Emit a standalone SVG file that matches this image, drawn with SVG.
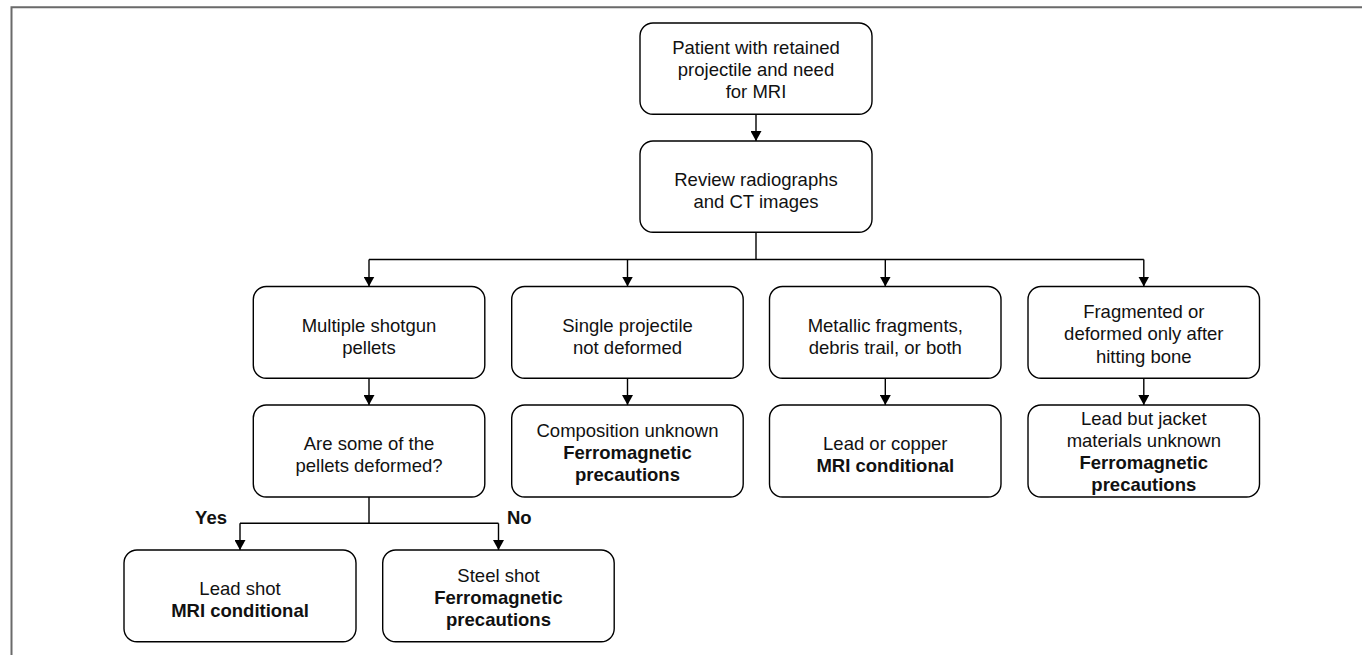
<svg xmlns="http://www.w3.org/2000/svg" width="1362" height="655" viewBox="0 0 1362 655">
<style>
.box{fill:#fff;stroke:#000;stroke-width:1.4}
.t{font-family:"Liberation Sans",Arial,sans-serif;font-size:18.5px;fill:#111;text-anchor:middle}
.b{font-weight:bold}
.c{fill:none;stroke:#000;stroke-width:1.4}
.frame{fill:none;stroke:#6a6a6a;stroke-width:2}
</style>
<defs>
<marker id="ah" markerUnits="userSpaceOnUse" markerWidth="12" markerHeight="11" refX="10" refY="5.5" orient="auto">
<path d="M0,0 L10,5.5 L0,11 Z" fill="#000"/>
</marker>
</defs>
<path class="frame" d="M11.5,655 L11.5,7.3 L1362,7.3"/>
<g id="connectors">
<line class="c" x1="756" y1="114" x2="756" y2="141" marker-end="url(#ah)"/>
<polyline class="c" points="756,232 756,259.5"/>
<polyline class="c" points="369,259.5 1143.8,259.5"/>
<line class="c" x1="369" y1="259.5" x2="369" y2="286.5" marker-end="url(#ah)"/>
<line class="c" x1="627.5" y1="259.5" x2="627.5" y2="286.5" marker-end="url(#ah)"/>
<line class="c" x1="885.3" y1="259.5" x2="885.3" y2="286.5" marker-end="url(#ah)"/>
<line class="c" x1="1143.8" y1="259.5" x2="1143.8" y2="286.5" marker-end="url(#ah)"/>
<line class="c" x1="369" y1="378.3" x2="369" y2="405" marker-end="url(#ah)"/>
<line class="c" x1="627.5" y1="378.3" x2="627.5" y2="405" marker-end="url(#ah)"/>
<line class="c" x1="885.3" y1="378.3" x2="885.3" y2="405" marker-end="url(#ah)"/>
<line class="c" x1="1143.8" y1="378.3" x2="1143.8" y2="405" marker-end="url(#ah)"/>
<polyline class="c" points="369,497 369,523.3"/>
<polyline class="c" points="240,523.3 498.5,523.3"/>
<line class="c" x1="240" y1="523.3" x2="240" y2="550" marker-end="url(#ah)"/>
<line class="c" x1="498.5" y1="523.3" x2="498.5" y2="550" marker-end="url(#ah)"/>
<text class="t b" x="227" y="524" style="text-anchor:end">Yes</text>
<text class="t b" x="507" y="524" style="text-anchor:start">No</text>
</g>
<g id="n-start">
<rect class="box" x="640" y="23" width="232" height="91.3" rx="13"/>
<text class="t" x="756" y="53.5">Patient with retained</text>
<text class="t" x="756" y="75.8">projectile and need</text>
<text class="t" x="756" y="98.1">for MRI</text>
</g>
<g id="n-review">
<rect class="box" x="640" y="141" width="232" height="91.3" rx="13"/>
<text class="t" x="756" y="186">Review radiographs</text>
<text class="t" x="756" y="208.3">and CT images</text>
</g>
<g id="n-multiple">
<rect class="box" x="253.3" y="286.5" width="231.5" height="91.8" rx="13"/>
<text class="t" x="369" y="331.6">Multiple shotgun</text>
<text class="t" x="369" y="353.9">pellets</text>
</g>
<g id="n-single">
<rect class="box" x="511.7" y="286.5" width="231.5" height="91.8" rx="13"/>
<text class="t" x="627.5" y="331.6">Single projectile</text>
<text class="t" x="627.5" y="353.9">not deformed</text>
</g>
<g id="n-metallic">
<rect class="box" x="769.5" y="286.5" width="231.5" height="91.8" rx="13"/>
<text class="t" x="885.3" y="331.6">Metallic fragments,</text>
<text class="t" x="885.3" y="353.9">debris trail, or both</text>
</g>
<g id="n-fragmented">
<rect class="box" x="1028" y="286.5" width="231.5" height="91.8" rx="13"/>
<text class="t" x="1143.8" y="318.1">Fragmented or</text>
<text class="t" x="1143.8" y="340.4">deformed only after</text>
<text class="t" x="1143.8" y="362.7">hitting bone</text>
</g>
<g id="n-deformed">
<rect class="box" x="253.3" y="405" width="231.5" height="92" rx="13"/>
<text class="t" x="369" y="450">Are some of the</text>
<text class="t" x="369" y="472.3">pellets deformed?</text>
</g>
<g id="n-composition">
<rect class="box" x="511.7" y="405" width="231.5" height="92" rx="13"/>
<text class="t" x="627.5" y="436.7">Composition unknown</text>
<text class="t b" x="627.5" y="459">Ferromagnetic</text>
<text class="t b" x="627.5" y="481.3">precautions</text>
</g>
<g id="n-leadcopper">
<rect class="box" x="769.5" y="405" width="231.5" height="92" rx="13"/>
<text class="t" x="885.3" y="450">Lead or copper</text>
<text class="t b" x="885.3" y="472.3">MRI conditional</text>
</g>
<g id="n-jacket">
<rect class="box" x="1028" y="405" width="231.5" height="92" rx="13"/>
<text class="t" x="1143.8" y="424.5">Lead but jacket</text>
<text class="t" x="1143.8" y="446.8">materials unknown</text>
<text class="t b" x="1143.8" y="469.1">Ferromagnetic</text>
<text class="t b" x="1143.8" y="491.4">precautions</text>
</g>
<g id="n-leadshot">
<rect class="box" x="124" y="550" width="232" height="91.7" rx="13"/>
<text class="t" x="240" y="595">Lead shot</text>
<text class="t b" x="240" y="617.3">MRI conditional</text>
</g>
<g id="n-steelshot">
<rect class="box" x="382.7" y="550" width="231.5" height="91.7" rx="13"/>
<text class="t" x="498.5" y="581.7">Steel shot</text>
<text class="t b" x="498.5" y="604">Ferromagnetic</text>
<text class="t b" x="498.5" y="626.3">precautions</text>
</g>
</svg>
